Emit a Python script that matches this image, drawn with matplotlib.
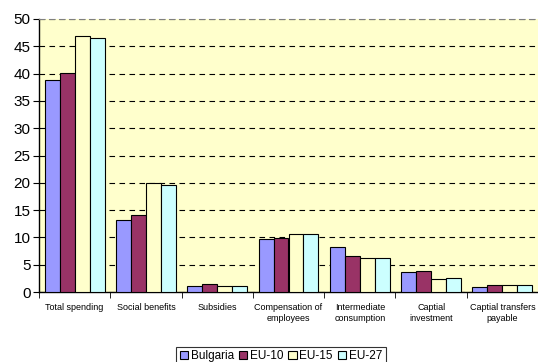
import matplotlib
matplotlib.use("Agg")
import matplotlib.pyplot as plt
import numpy as np

categories = ["Total spending", "Social benefits", "Subsidies", "Compensation of\nemployees",
              "Intermediate\nconsumption", "Captial\ninvestment", "Captial transfers\npayable"]
series_names = ["Bulgaria", "EU-10", "EU-15", "EU-27"]
bulgaria = [38.9, 13.2, 1.1, 9.7, 8.3, 3.6, 0.85]
eu10 = [40.1, 14.1, 1.4, 9.8, 6.6, 3.8, 1.35]
eu15 = [46.9, 20.0, 1.15, 10.7, 6.3, 2.3, 1.35]
eu27 = [46.5, 19.6, 1.15, 10.7, 6.3, 2.5, 1.35]
colors = ["#9999FF", "#993366", "#FFFFCC", "#CCFFFF"]
yticks = list(range(0, 55, 5))

plt.rcParams['font.family'] = ['Liberation Sans', 'DejaVu Sans']
fig = plt.figure(figsize=(5.38, 3.62), dpi=100)
ax = fig.add_axes([39/538, 1-292/362, 1-39/538, (292-19)/362])
ax.set_facecolor("#FFFFCC")

x = np.arange(len(categories))
w = 0.21
data = [bulgaria, eu10, eu15, eu27]
for i, (vals, c, n) in enumerate(zip(data, colors, series_names)):
    ax.bar(x + (i - 1.5) * w, vals, w, color=c, edgecolor="black", linewidth=0.8, label=n, zorder=3)

ax.set_xlim(-0.5, len(categories) - 0.5)
ax.set_ylim(0, 50)
ax.set_yticks(yticks)
ax.set_yticklabels([str(t) for t in yticks], fontsize=11)
ax.yaxis.grid(True, linestyle=(0, (5, 4)), color="black", linewidth=0.8, zorder=1)
ax.set_xticks(x)
ax.set_xticklabels(categories, fontsize=6.5)
ax.tick_params(axis='x', length=0, pad=8)
ax.set_xticks(np.arange(-0.5, len(categories) + 0.5, 1), minor=True)
ax.tick_params(axis='x', which='minor', length=4, direction='out')
ax.tick_params(axis='y', length=4, direction='out', pad=2)
ax.spines['right'].set_visible(False)
ax.spines['top'].set_linestyle((0, (5, 4)))
ax.spines['top'].set_color("gray")
ax.spines['left'].set_linewidth(1)
ax.spines['bottom'].set_linewidth(1)

leg = fig.legend(loc="lower center", bbox_to_anchor=(281/538, -0.01), ncol=4, fontsize=8.5,
                 frameon=True, fancybox=False, edgecolor="black", handlelength=0.7,
                 handleheight=0.7, handletextpad=0.25, columnspacing=0.4,
                 borderpad=0.3, borderaxespad=0.0)
leg.get_frame().set_linewidth(0.8)

fig.savefig("out.png", dpi=100)
